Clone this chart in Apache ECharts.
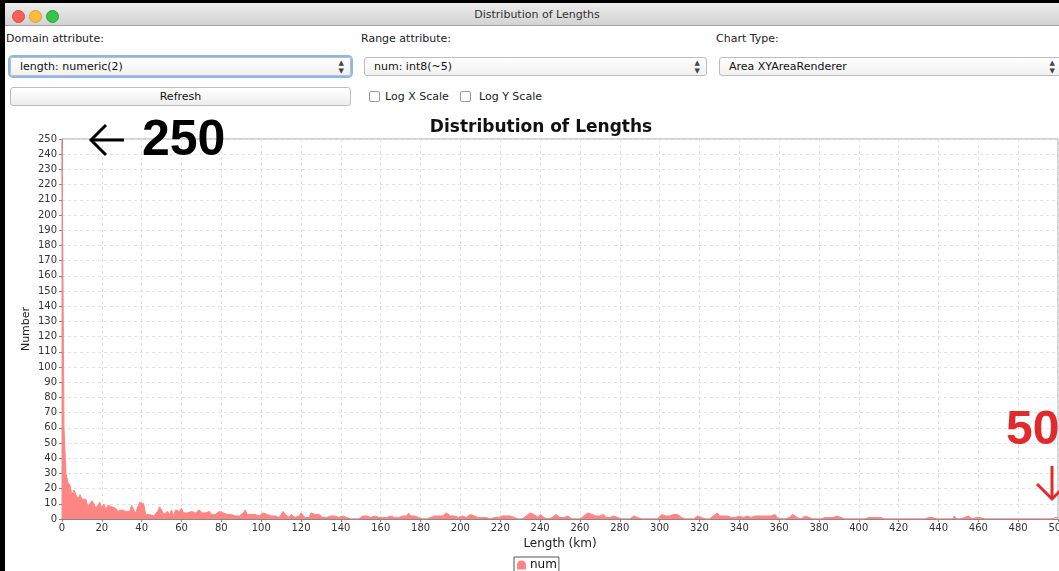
<!DOCTYPE html>
<html>
<head>
<meta charset="utf-8">
<title>Distribution of Lengths</title>
<script src="https://cdn.jsdelivr.net/npm/echarts@6/dist/echarts.min.js"></script>
<style>
  html, body { margin: 0; padding: 0; background: #000; width: 1059px; height: 571px; overflow: hidden; }
  body { position: relative; font-family: "DejaVu Sans", sans-serif; }
  .win { position: absolute; left: 5px; top: 3px; width: 1060px; height: 572px; background: #fff; }
  .titlebar { position: absolute; left: 0; top: 0; right: 0; height: 22px;
    background: linear-gradient(#ececec, #d3d3d3); border-bottom: 1px solid #a3a3a3; }
  .titlebar .t { position: absolute; left: 0; width: 1064px; top: 5px; text-align: center; font-size: 11px; color: #333; }
  .light { position: absolute; top: 7px; width: 11px; height: 11px; border-radius: 50%; }
  .lbl { position: absolute; top: 29px; font-size: 11px; color: #222; }
  .combo { position: absolute; top: 54px; height: 19px; box-sizing: border-box; border: 1px solid #bdbdbd; border-radius: 3px;
    background: linear-gradient(#ffffff, #f1f1f1); font-size: 11px; color: #111; line-height: 17px; padding-left: 9px; }
  .combo.focus { box-shadow: 0 0 0 2px #8db7ea; }
  .combo .arr { position: absolute; right: 6px; top: 0; font-size: 7px; line-height: 8px; color: #444; padding-top: 1px; }
  .btn { position: absolute; left: 5px; top: 84px; width: 341px; height: 19px; box-sizing: border-box; border: 1px solid #bdbdbd; border-radius: 3px;
    background: linear-gradient(#ffffff, #ededed); font-size: 11px; color: #111; text-align: center; line-height: 17px; }
  .cb { position: absolute; top: 88px; width: 11px; height: 11px; box-sizing: border-box; border: 1px solid #9c9c9c; border-radius: 2px; background: #fff; }
  .cbl { position: absolute; top: 87px; font-size: 11px; color: #222; }
  #chart { position: absolute; left: 0; top: 0; width: 1059px; height: 571px; }
</style>
</head>
<body>
<div class="win">
  <div class="titlebar">
    <div class="light" style="left:7px;background:#fb5f57;border:0.5px solid #d94a43"></div>
    <div class="light" style="left:24px;background:#fcbb3e;border:0.5px solid #d9a032"></div>
    <div class="light" style="left:41px;background:#33c648;border:0.5px solid #28a43a"></div>
    <div class="t">Distribution of Lengths</div>
  </div>
  <div class="lbl" style="left:1px">Domain attribute:</div>
  <div class="lbl" style="left:356px">Range attribute:</div>
  <div class="lbl" style="left:711px">Chart Type:</div>
  <div class="combo focus" style="left:5px;width:341px">length: numeric(2)<div class="arr">▲<br>▼</div></div>
  <div class="combo" style="left:359px;width:343px">num: int8(~5)<div class="arr">▲<br>▼</div></div>
  <div class="combo" style="left:714px;width:343px">Area XYAreaRenderer<div class="arr">▲<br>▼</div></div>
  <div class="btn">Refresh</div>
  <div class="cb" style="left:364px"></div>
  <div class="cbl" style="left:380px">Log X Scale</div>
  <div class="cb" style="left:455px"></div>
  <div class="cbl" style="left:474px">Log Y Scale</div>
</div>
<div id="chart"></div>
<script>
// Number of rivers per 1 km length bin, 0 .. 500 km
const counts = [
  250, 60, 30, 24, 22, 16, 19, 20, 13, 16, 13, 13, 13, 8, 9, 12, 10, 7, 7, 11,
  7, 10, 6, 9, 8, 8, 7, 7, 5, 6, 6, 7, 5, 4, 5, 9, 6, 4, 8, 11,
  11, 10, 3, 4, 3, 3, 2, 1, 5, 8, 6, 3, 4, 5, 3, 6, 2, 6, 6, 5,
  7, 4, 5, 4, 4, 5, 6, 4, 3, 6, 4, 3, 4, 5, 5, 3, 4, 3, 4, 5,
  6, 4, 4, 3, 3, 3, 4, 2, 3, 2, 2, 4, 6, 3, 4, 3, 3, 3, 3, 2,
  3, 4, 5, 3, 2, 2, 3, 2, 2, 1, 3, 5, 3, 2, 1, 3, 2, 1, 1, 2,
  4, 3, 1, 1, 1, 4, 3, 3, 3, 3, 2, 1, 0, 1, 2, 2, 2, 2, 2, 1,
  1, 2, 2, 1, 0, 0, 0, 0, 1, 0, 1, 2, 1, 2, 2, 1, 1, 2, 1, 1,
  2, 1, 2, 1, 1, 2, 1, 1, 2, 1, 1, 2, 3, 2, 4, 2, 1, 2, 3, 1,
  0, 0, 1, 0, 0, 1, 2, 2, 2, 2, 2, 2, 3, 4, 3, 2, 1, 2, 2, 1,
  2, 2, 1, 1, 2, 3, 3, 2, 1, 1, 1, 1, 1, 1, 0, 0, 0, 1, 1, 1,
  2, 2, 2, 2, 2, 2, 2, 1, 0, 0, 0, 0, 1, 2, 3, 4, 3, 3, 2, 1,
  3, 2, 1, 1, 0, 1, 1, 2, 3, 3, 1, 1, 1, 2, 2, 1, 0, 0, 0, 0,
  0, 1, 2, 3, 4, 4, 3, 2, 2, 1, 2, 3, 3, 1, 0, 1, 2, 2, 3, 1,
  0, 0, 0, 0, 0, 0, 1, 2, 2, 1, 0, 0, 0, 0, 0, 0, 0, 0, 0, 0,
  1, 3, 2, 2, 2, 2, 2, 3, 4, 3, 2, 1, 1, 0, 0, 0, 0, 0, 1, 2,
  2, 1, 1, 0, 0, 0, 1, 2, 3, 4, 2, 1, 2, 3, 2, 1, 1, 1, 1, 1,
  2, 2, 1, 1, 2, 1, 1, 1, 2, 2, 2, 2, 2, 2, 2, 2, 2, 2, 3, 1,
  1, 0, 0, 0, 0, 1, 2, 3, 2, 1, 0, 0, 1, 2, 2, 1, 0, 0, 0, 0,
  0, 0, 0, 1, 1, 1, 1, 1, 1, 2, 1, 1, 0, 0, 0, 0, 0, 0, 0, 0,
  0, 0, 0, 0, 1, 1, 1, 1, 2, 1, 2, 1, 0, 0, 0, 0, 0, 0, 0, 0,
  0, 0, 0, 0, 0, 0, 0, 0, 0, 0, 0, 0, 0, 0, 0, 1, 2, 1, 1, 0,
  0, 0, 0, 0, 0, 0, 0, 0, 2, 0, 0, 0, 0, 1, 1, 2, 1, 0, 0, 1,
  2, 1, 0, 0, 0, 0, 0, 0, 0, 0, 0, 0, 0, 0, 0, 0, 0, 0, 0, 0,
  0, 0, 0, 0, 0, 0, 0, 0, 0, 0, 0, 0, 0, 0, 0, 0, 0, 0, 0, 1,
  1
];
const seriesName = 'num';
const chartTitle = 'Distribution of Lengths';
const xName = 'Length (km)';
const yName = 'Number';

const areaColor = '#ff8585';
const axisFont = 'DejaVu Sans';

const chart = echarts.init(document.getElementById('chart'), null, { renderer: 'canvas' });
chart.setOption({
  animation: false,
  backgroundColor: 'transparent',
  title: {
    text: chartTitle,
    left: 536,
    textAlign: 'center',
    top: 114,
    textStyle: { fontFamily: axisFont, fontSize: 17, fontWeight: 'bold', color: '#111' }
  },
  grid: {
    left: 62, right: 1, top: 139, bottom: 52,
    containLabel: false, outerBoundsMode: 'none',
    show: true, backgroundColor: '#fff', borderColor: '#a8a8a8', borderWidth: 1
  },
  legend: {
    left: 514, top: 557,
    data: [{ name: seriesName, icon: 'path://M0,10 L0,5 Q0,0 5,0 Q10,0 10,5 L10,10 Z' }],
    itemWidth: 9, itemHeight: 9, itemGap: 4,
    padding: [2, 2, 2, 3],
    borderColor: '#555', borderWidth: 1, borderRadius: 0,
    textStyle: { fontFamily: axisFont, fontSize: 12, color: '#111', padding: [0, 0, 0, -1] }
  },
  xAxis: {
    type: 'value', min: 0, max: 500, interval: 20,
    name: xName, nameLocation: 'middle', nameGap: 19, nameMoveOverlap: false,
    nameTextStyle: { fontFamily: axisFont, fontSize: 12, color: '#222' },
    axisLine: { show: true, lineStyle: { color: '#888' } },
    axisTick: { show: true, length: 3, lineStyle: { color: '#888' } },
    axisLabel: { fontFamily: axisFont, fontSize: 10, color: '#333', margin: 4, showMaxLabel: true },
    splitLine: { show: true, lineStyle: { color: '#e2e2e2', type: [3, 3], width: 1 } }
  },
  yAxis: {
    type: 'value', min: 0, max: 250, interval: 10,
    name: yName, nameLocation: 'middle', nameGap: 30, nameRotate: 90, nameMoveOverlap: false,
    nameTextStyle: { fontFamily: axisFont, fontSize: 11, color: '#222' },
    axisLine: { show: true, lineStyle: { color: '#888' } },
    axisTick: { show: true, length: 3, lineStyle: { color: '#888' } },
    axisLabel: { fontFamily: axisFont, fontSize: 10, color: '#333', margin: 5 },
    splitLine: { show: true, lineStyle: { color: '#e2e2e2', type: [3, 3], width: 1 } }
  },
  series: [{
    name: seriesName,
    type: 'line',
    data: counts.map((v, km) => [km, v]),
    showSymbol: false,
    symbol: 'none',
    color: areaColor,
    lineStyle: { color: areaColor, width: 1 },
    areaStyle: { color: areaColor, opacity: 1 },
    z: 3
  }],
  graphic: [
    // left-pointing arrow next to the peak value
    { type: 'polyline', z: 100,
      shape: { points: [[124, 140], [92, 140]] },
      style: { stroke: '#000', lineWidth: 3, fill: null } },
    { type: 'polyline', z: 100,
      shape: { points: [[106, 125], [91, 140], [106, 155]] },
      style: { stroke: '#000', lineWidth: 3, fill: null, lineJoin: 'miter' } },
    { type: 'text', left: 142, top: 116, z: 100,
      style: { text: '250', font: 'bold 50px "Liberation Sans"', fill: '#000' } },
    { type: 'text', left: 1006, top: 407, z: 100,
      style: { text: '500', font: 'bold 48px "Liberation Sans"', fill: '#e2292b' } },
    // downward arrow at the far end of the axis
    { type: 'polyline', z: 100,
      shape: { points: [[1052, 466], [1052, 498]] },
      style: { stroke: '#e2292b', lineWidth: 3, fill: null } },
    { type: 'polyline', z: 100,
      shape: { points: [[1037, 484], [1052, 499], [1067, 484]] },
      style: { stroke: '#e2292b', lineWidth: 3, fill: null, lineJoin: 'miter' } }
  ]
});
</script>
</body>
</html>
